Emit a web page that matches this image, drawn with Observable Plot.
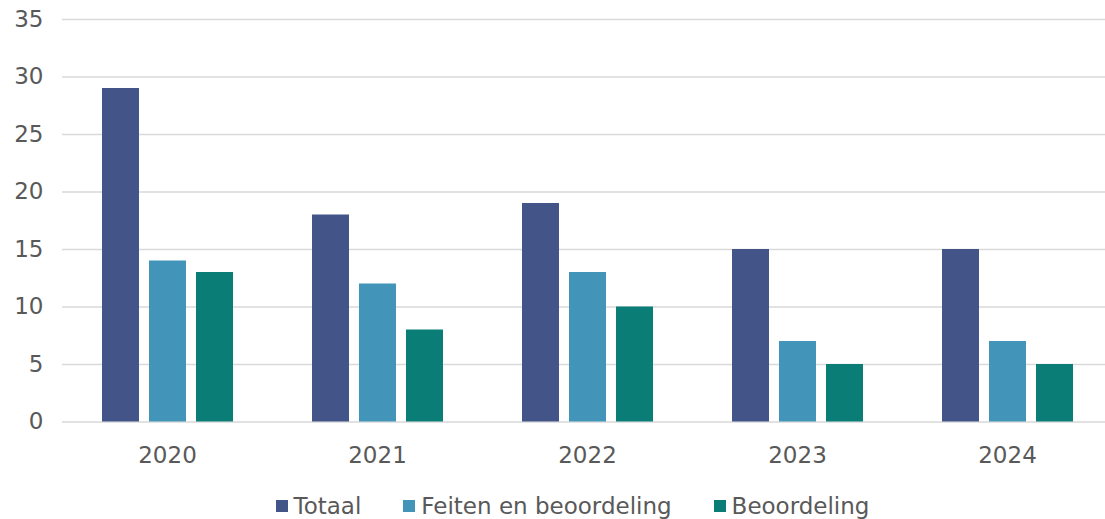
<!DOCTYPE html>
<html>
<head>
<meta charset="utf-8">
<script src="https://cdn.jsdelivr.net/npm/d3@7"></script>
<script src="https://cdn.jsdelivr.net/npm/@observablehq/plot@0.6"></script>
<style>
  html, body { margin: 0; padding: 0; background: #fff; }
  body { width: 1105px; height: 519px; overflow: hidden; position: relative; font-family: "DejaVu Sans", sans-serif; }
  #legend { position: absolute; left: 0; top: 492px; width: 1105px; height: 28px; line-height: 28px; display: flex; justify-content: center; align-items: center; gap: 42px; font-size: 23px; color: #595959; box-sizing: border-box; padding-left: 40px; }
  #legend .item { display: flex; align-items: center; gap: 6px; }
  #legend .sw { width: 12px; height: 12px; display: inline-block; }
</style>
</head>
<body>
<div id="chart"></div>
<div id="legend"></div>
<script>
const years = ["2020", "2021", "2022", "2023", "2024"];
const seriesNames = ["Totaal", "Feiten en beoordeling", "Beoordeling"];
const totaal = [29, 18, 19, 15, 15];
const feiten = [14, 12, 13, 7, 7];
const beoordeling = [13, 8, 10, 5, 5];
const colors = ["#435489", "#4295b8", "#0a7d77"];
const yTicks = [0, 5, 10, 15, 20, 25, 30, 35];

const seriesValues = [totaal, feiten, beoordeling];
const data = [];
years.forEach((y, i) => {
  seriesNames.forEach((s, j) => data.push({year: y, series: s, value: seriesValues[j][i]}));
});

const chart = Plot.plot({
  width: 1105,
  height: 480,
  marginLeft: 62,
  marginRight: -7,
  marginTop: 19,
  marginBottom: 58.5,
  style: {fontFamily: "'DejaVu Sans', sans-serif", fontSize: "23px", color: "#595959", background: "#fff"},
  fx: {domain: years, padding: 0, label: null},
  x: {domain: seriesNames, paddingInner: 0.2128, paddingOuter: 0.84, axis: null},
  y: {domain: [0, 35], ticks: yTicks, label: null},
  color: {domain: seriesNames, range: colors},
  marks: [
    Plot.ruleY(yTicks, {stroke: "#d9d9d9", strokeWidth: 1.5}),
    Plot.barY(data, {fx: "year", x: "series", y: "value", fill: "series"}),
    Plot.axisY({ticks: yTicks, tickSize: 0, tickPadding: 19, fontSize: 23, fill: "#595959", label: null}),
    Plot.axisFx({anchor: "bottom", tickSize: 0, tickPadding: 25, fontSize: 23, fill: "#595959", label: null})
  ]
});
document.getElementById("chart").appendChild(chart);

const legend = document.getElementById("legend");
seriesNames.forEach((s, i) => {
  const it = document.createElement("div");
  it.className = "item";
  const sw = document.createElement("span");
  sw.className = "sw";
  sw.style.background = colors[i];
  const t = document.createElement("span");
  t.textContent = s;
  it.appendChild(sw);
  it.appendChild(t);
  legend.appendChild(it);
});
</script>
</body>
</html>
